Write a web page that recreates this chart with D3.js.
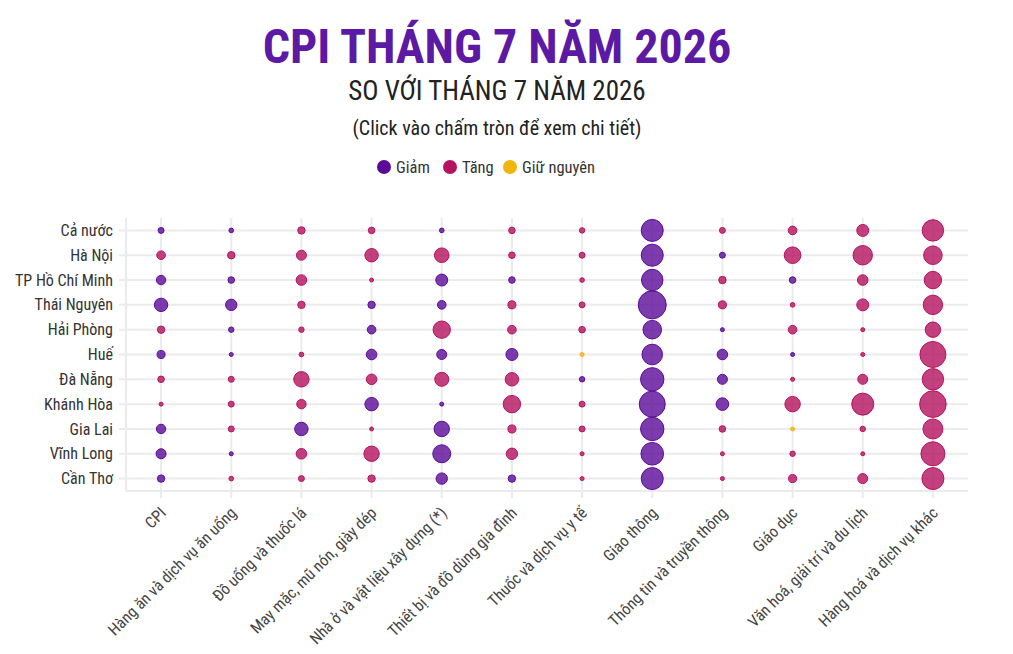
<!DOCTYPE html>
<html>
<head>
<meta charset="utf-8">
<script src="https://cdn.jsdelivr.net/npm/d3@7"></script>
<style>
    body { margin: 0; background: #fff; }
    svg text { font-family: "Roboto Condensed", "Liberation Sans Narrow", "Roboto", sans-serif; }
</style>
</head>
<body>
<div id="chart"></div>
<script>
const provinces = ["Cả nước", "Hà Nội", "TP Hồ Chí Minh", "Thái Nguyên", "Hải Phòng", "Huế",
    "Đà Nẵng", "Khánh Hòa", "Gia Lai", "Vĩnh Long", "Cần Thơ"];
const categories = ["CPI", "Hàng ăn và dịch vụ ăn uống", "Đồ uống và thuốc lá", "May mặc, mũ nón, giày dép",
    "Nhà ở và vật liệu xây dựng (*)", "Thiết bị và đồ dùng gia đình", "Thuốc và dịch vụ y tế", "Giao thông",
    "Thông tin và truyền thông", "Giáo dục", "Văn hoá, giải trí và du lịch", "Hàng hoá và dịch vụ khác"];
// % thay đổi, mỗi hàng là một tỉnh, theo thứ tự categories
const values = [
    [-0.18, -0.11, 0.28, 0.22, -0.11, 0.22, 0.15, -2.47, 0.18, 0.38, 0.73, 2.34],
    [0.38, 0.28, 0.51, 0.92, 1.09, 0.22, 0.18, -2.47, -0.18, 1.41, 1.92, 1.76],
    [-0.45, -0.22, 0.57, 0.05, -0.73, -0.22, 0.11, -2.34, 0.28, -0.22, 0.57, 1.54],
    [-0.92, -0.66, 0.28, -0.28, -0.38, 0.33, 0.18, -4.00, 0.33, 0.11, 0.73, 1.92],
    [0.28, -0.15, 0.15, -0.38, 1.54, 0.38, 0.22, -1.76, -0.05, 0.38, 0.05, 1.21],
    [-0.33, -0.05, 0.11, -0.57, -0.51, -0.73, 0, -2.16, -0.57, -0.05, 0.05, 3.45],
    [0.22, 0.18, 1.21, 0.57, 1.00, 0.92, -0.15, -2.79, -0.51, 0.05, 0.51, 2.34],
    [0.05, 0.18, 0.45, -0.92, -0.05, 1.54, 0.18, -3.45, -0.81, 1.21, 2.47, 3.61],
    [-0.45, 0.18, -0.92, 0.05, -1.21, 0.33, 0.18, -2.79, 0.22, 0, 0.15, 2.04],
    [-0.51, -0.05, 0.57, 1.21, -1.65, 0.66, 0.05, -2.61, 0.05, 0.15, 0.05, 2.94],
    [-0.28, 0.11, 0.18, 0.28, -0.66, -0.28, 0.05, -2.47, 0.05, 0.33, 0.51, 2.47]
];
const statusKeys = ["Giảm", "Tăng", "Giữ nguyên"];
const statusColors = ["#5c0b99", "#b5125f", "#f2b50f"];

(function () {
    const width = 1013, height = 654;
    const margin = { left: 126, right: 45, top: 218, bottom: 163 };
    const svg = d3.select("#chart")
        .append("svg")
        .attr("width", width)
        .attr("height", height);

    const color = d3.scaleOrdinal()
        .domain(statusKeys)
        .range(statusColors);
    const status = v => v < 0 ? "Giảm" : (v > 0 ? "Tăng" : "Giữ nguyên");

    const cx = 497;
    svg.append("text")
        .text("CPI THÁNG 7 NĂM 2026")
        .attr("x", cx)
        .attr("y", 63)
        .attr("text-anchor", "middle")
        .attr("font-size", 48)
        .attr("font-weight", 700)
        .attr("fill", "#5c19a3");
    svg.append("text")
        .text("SO VỚI THÁNG 7 NĂM 2026")
        .attr("x", cx)
        .attr("y", 100)
        .attr("text-anchor", "middle")
        .attr("font-size", 27)
        .attr("fill", "#222");
    svg.append("text")
        .text("(Click vào chấm tròn để xem chi tiết)")
        .attr("x", cx)
        .attr("y", 135)
        .attr("text-anchor", "middle")
        .attr("font-size", 20)
        .attr("fill", "#222");

    // legend
    const legendX = [384, 450, 510];
    const legend = svg.append("g")
        .selectAll("g")
        .data(statusKeys)
        .join("g")
        .attr("transform", (d, i) => `translate(${legendX[i]}, 167)`);
    legend.append("circle")
        .attr("r", 7)
        .attr("fill", d => color(d));
    legend.append("text")
        .attr("x", 12)
        .attr("dy", "0.35em")
        .attr("font-size", 16.5)
        .attr("fill", "#333")
        .text(d => d);

    const x = d3.scaleBand()
        .domain(categories)
        .range([margin.left, width - margin.right]);
    const y = d3.scaleBand()
        .domain(provinces)
        .range([margin.top, height - margin.bottom]);
    const r = d3.scaleSqrt()
        .domain([0, 4])
        .range([0, 14]);

    const grid = svg.append("g")
        .attr("stroke", "#ebebeb")
        .attr("stroke-width", 2);
    grid.selectAll(".v")
        .data(categories)
        .join("line")
        .attr("x1", d => x(d) + x.bandwidth() / 2)
        .attr("x2", d => x(d) + x.bandwidth() / 2)
        .attr("y1", margin.top)
        .attr("y2", height - margin.bottom + 7);
    grid.selectAll(".h")
        .data(provinces)
        .join("line")
        .attr("x1", margin.left - 7)
        .attr("x2", width - margin.right)
        .attr("y1", d => y(d) + y.bandwidth() / 2)
        .attr("y2", d => y(d) + y.bandwidth() / 2);
    grid.append("line")
        .attr("x1", margin.left)
        .attr("x2", margin.left)
        .attr("y1", margin.top)
        .attr("y2", height - margin.bottom);
    grid.append("line")
        .attr("x1", margin.left)
        .attr("x2", width - margin.right)
        .attr("y1", height - margin.bottom)
        .attr("y2", height - margin.bottom);

    // y labels
    svg.append("g")
        .selectAll("text")
        .data(provinces)
        .join("text")
        .attr("x", margin.left - 13)
        .attr("y", d => y(d) + y.bandwidth() / 2)
        .attr("dy", "0.35em")
        .attr("text-anchor", "end")
        .attr("font-size", 16)
        .attr("fill", "#333")
        .text(d => d);

    // x labels
    svg.append("g")
        .selectAll("text")
        .data(categories)
        .join("text")
        .attr("text-anchor", "end")
        .attr("font-size", 16)
        .attr("fill", "#444")
        .attr("transform", d => `translate(${x(d) + x.bandwidth() / 2 + 6}, ${height - margin.bottom + 23}) rotate(-45)`)
        .text(d => d);

    const cells = [];
    values.forEach((row, i) => row.forEach((v, j) => cells.push({ p: provinces[i], c: categories[j], v })));

    svg.append("g")
        .selectAll("circle")
        .data(cells)
        .join("circle")
        .attr("cx", d => x(d.c) + x.bandwidth() / 2)
        .attr("cy", d => y(d.p) + y.bandwidth() / 2)
        .attr("r", d => Math.max(2, r(Math.abs(d.v))))
        .attr("fill", d => color(status(d.v)))
        .attr("fill-opacity", 0.8)
        .attr("stroke", d => color(status(d.v)))
        .attr("stroke-width", 1)
        .style("cursor", "pointer")
        .append("title")
        .text(d => `${d.p} - ${d.c}: ${d.v}%`);
})();
</script>
</body>
</html>
